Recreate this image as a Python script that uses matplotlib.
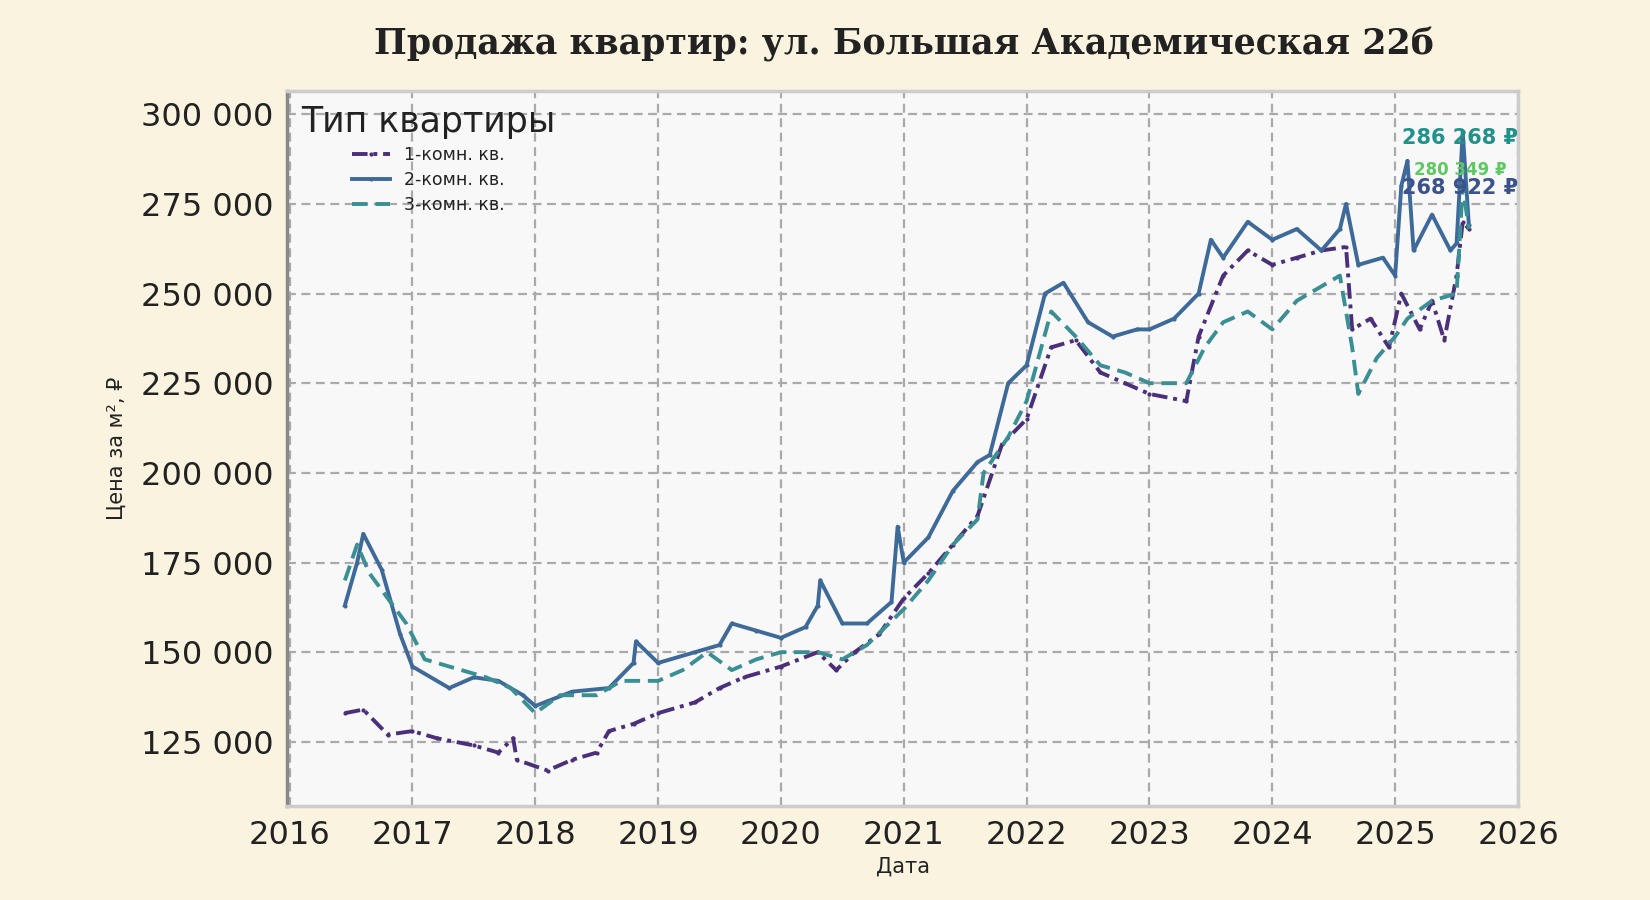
import matplotlib
matplotlib.use("Agg")
import matplotlib.pyplot as plt
from matplotlib.ticker import FuncFormatter

t1 = [2016.45,2016.6,2016.8,2017.0,2017.2,2017.5,2017.7,2017.82,2017.85,2018.1,2018.3,2018.5,2018.6,2018.8,2019.0,2019.3,2019.5,2019.7,2020.0,2020.3,2020.45,2020.6,2020.8,2021.0,2021.2,2021.4,2021.6,2021.8,2022.0,2022.2,2022.4,2022.6,2022.8,2023.0,2023.3,2023.4,2023.6,2023.8,2024.0,2024.2,2024.4,2024.6,2024.65,2024.8,2024.95,2025.05,2025.2,2025.3,2025.4,2025.5,2025.55,2025.6]
v1 = [133,134,127,128,126,124,122,126,120,117,120,122,128,130,133,136,140,143,146,150,145,150,155,165,172,180,188,208,215,235,237,228,225,222,220,238,255,262,258,260,262,263,240,243,235,250,240,248,237,255,270,268]
t2 = [2016.45,2016.55,2016.6,2016.75,2016.9,2017.0,2017.3,2017.5,2017.7,2017.9,2018.0,2018.3,2018.6,2018.8,2018.82,2019.0,2019.3,2019.5,2019.6,2019.8,2020.0,2020.2,2020.3,2020.32,2020.5,2020.7,2020.9,2020.95,2021.0,2021.2,2021.4,2021.6,2021.7,2021.85,2022.0,2022.15,2022.3,2022.5,2022.7,2022.9,2023.0,2023.2,2023.4,2023.5,2023.6,2023.8,2024.0,2024.2,2024.4,2024.55,2024.6,2024.7,2024.9,2025.0,2025.05,2025.1,2025.15,2025.3,2025.45,2025.5,2025.55,2025.6]
v2 = [163,175,183,173,155,146,140,143,142,138,135,139,140,147,153,147,150,152,158,156,154,157,163,170,158,158,164,185,175,182,195,203,205,225,230,250,253,242,238,240,240,243,250,265,260,270,265,268,262,268,275,258,260,255,280,287,262,272,262,264,295,269]
t3 = [2016.45,2016.55,2016.65,2016.8,2016.95,2017.1,2017.4,2017.6,2017.8,2018.0,2018.2,2018.5,2018.7,2019.0,2019.2,2019.4,2019.6,2019.8,2020.0,2020.3,2020.5,2020.7,2021.0,2021.2,2021.4,2021.6,2021.65,2021.85,2022.0,2022.2,2022.4,2022.6,2022.8,2023.0,2023.3,2023.45,2023.6,2023.8,2024.0,2024.2,2024.4,2024.55,2024.65,2024.7,2024.85,2025.0,2025.1,2025.3,2025.5,2025.55,2025.6]
v3 = [170,180,172,165,158,148,145,143,140,133,138,138,142,142,145,150,145,148,150,150,148,152,162,170,180,187,200,210,220,245,238,230,228,225,225,235,242,245,240,248,252,255,235,222,232,238,243,248,250,280,268]
labels = ["1-комн. кв.", "2-комн. кв.", "3-комн. кв."]
ann_vals = [286268, 280349, 268922]
ann_text = ["286 268 ₽", "280 349 ₽", "268 922 ₽"]

fig = plt.figure(figsize=(16.5, 9), dpi=100, facecolor="#faf3e0")
ax = fig.add_axes([0.174, 0.104, 0.746, 0.795], facecolor="#f8f8f8")

ax.plot(t1, [v*1000 for v in v1], color="#4b2f7a", lw=2.8, ls=(0, (4, 1.5, 1, 1.5)), marker="o", ms=2, label=labels[0])
ax.plot(t2, [v*1000 for v in v2], color="#3e6a9a", lw=2.8, ls="-", marker="o", ms=2, label=labels[1])
ax.plot(t3, [v*1000 for v in v3], color="#3a8f94", lw=2.8, ls=(0, (4, 2)), label=labels[2])

ann_cols = ["#21918c", "#5ec962", "#3b528b"]
ann_y = [293500, 284500, 279500]
ann_fs = [15, 12, 15]
for txt, yy, c, fs in zip(ann_text, ann_y, ann_cols, ann_fs):
    ax.text(2025.53, yy, txt, color=c, fontsize=fs, fontweight="bold", ha="center", va="center")

ax.set_xlim(2015.98, 2026.0)
ax.set_ylim(107000, 306500)
ax.set_xticks(range(2016, 2027))
ax.set_yticks(range(125000, 300001, 25000))
ax.yaxis.set_major_formatter(FuncFormatter(lambda v, p: f"{int(v):,}".replace(",", " ")))
ax.tick_params(labelsize=23, length=0, pad=10, colors="#222222")
ax.grid(True, ls=(0, (4, 2.5)), color="#aaaaaa", lw=1.6)
for s in ax.spines.values():
    s.set_color("#cccccc"); s.set_linewidth(2.5)
ax.spines["left"].set_color("#888888")
ax.set_xlabel("Дата", fontsize=15, color="#222222", labelpad=4)
ax.set_ylabel("Цена за м², ₽", fontsize=15, color="#222222", labelpad=10)
fig.text(0.548, 0.951, "Продажа квартир: ул. Большая Академическая 22б", fontsize=25, fontweight="bold",
         family="DejaVu Serif", color="#222222", ha="center", va="center")
leg = ax.legend(title="Тип квартиры", loc="upper left", frameon=False, fontsize=12.5,
                title_fontsize=25, handlelength=2.2, labelspacing=0.4, borderaxespad=0.4)
for txt in leg.get_texts():
    txt.set_color("#222222")
leg.get_title().set_color("#222222")
fig.savefig("out.png", dpi=100, facecolor=fig.get_facecolor())
